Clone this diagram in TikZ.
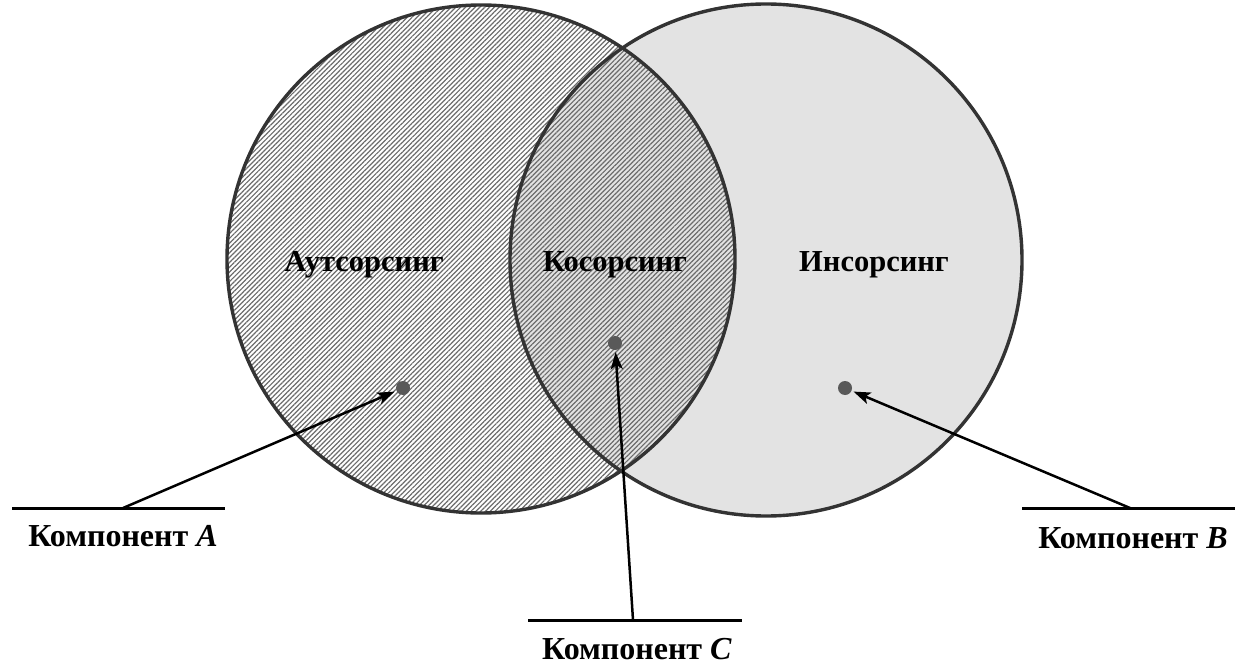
\documentclass[tikz,border=0pt]{standalone}
\usepackage{fontspec}
\setmainfont{Liberation Serif}
\usetikzlibrary{patterns.meta,arrows.meta}

\begin{document}
\begin{tikzpicture}[x=1pt, y=1pt]
    % Styles
    \tikzstyle{setline} = [line width=3.4pt, draw=black!80]
    \tikzstyle{dot} = [circle, fill=black!65, inner sep=0pt, minimum size=14pt]
    \tikzstyle{title} = [font=\fontsize{30.5}{36}\selectfont\bfseries]
    \tikzstyle{comp} = [font=\fontsize{32}{38}\selectfont\bfseries, inner sep=0pt]
    \tikzstyle{pointer} = [-{Stealth[length=17pt, width=12pt, inset=4pt]}, line width=2.5pt, shorten >=2pt]
    \tikzstyle{shelf} = [line width=3pt]

    \useasboundingbox (0,0) rectangle (1238,665);

    % Sets
    \fill[black!11] (766,405) circle[radius=256pt];
    \fill[pattern={Lines[angle=45, distance=3.4pt, line width=1.2pt]}, pattern color=black!58] (481,406) circle[radius=254pt];
    \draw[setline] (481,406) circle[radius=254pt];
    \draw[setline] (766,405) circle[radius=256pt];

    % Nodes
    \node[title] (out) at (364,400) {Аутсорсинг};
    \node[title] (co) at (615,400) {Косорсинг};
    \node[title] (in) at (874,400) {Инсорсинг};

    \node[dot] (ptA) at (403,277) {};
    \node[dot] (ptC) at (615,322) {};
    \node[dot] (ptB) at (845,277) {};

    \coordinate (lineAl) at (12,157);
    \coordinate (lineAr) at (225,157);
    \coordinate (footA) at (123,157);
    \coordinate (lineCl) at (528,45);
    \coordinate (lineCr) at (742,45);
    \coordinate (footC) at (633,45);
    \coordinate (lineBl) at (1022,157);
    \coordinate (lineBr) at (1235,157);
    \coordinate (footB) at (1130,157);

    \node[comp] (compA) at (123,129) {Компонент \textit{A}};
    \node[comp] (compC) at (637,16) {Компонент \textit{C}};
    \node[comp] (compB) at (1133,127) {Компонент \textit{B}};

    % Leaders
    \draw[shelf] (lineAl) -- (lineAr);
    \draw[shelf] (lineCl) -- (lineCr);
    \draw[shelf] (lineBl) -- (lineBr);
    \draw[pointer] (footA) -- (ptA);
    \draw[pointer] (footC) -- (ptC);
    \draw[pointer] (footB) -- (ptB);
\end{tikzpicture}
\end{document}
